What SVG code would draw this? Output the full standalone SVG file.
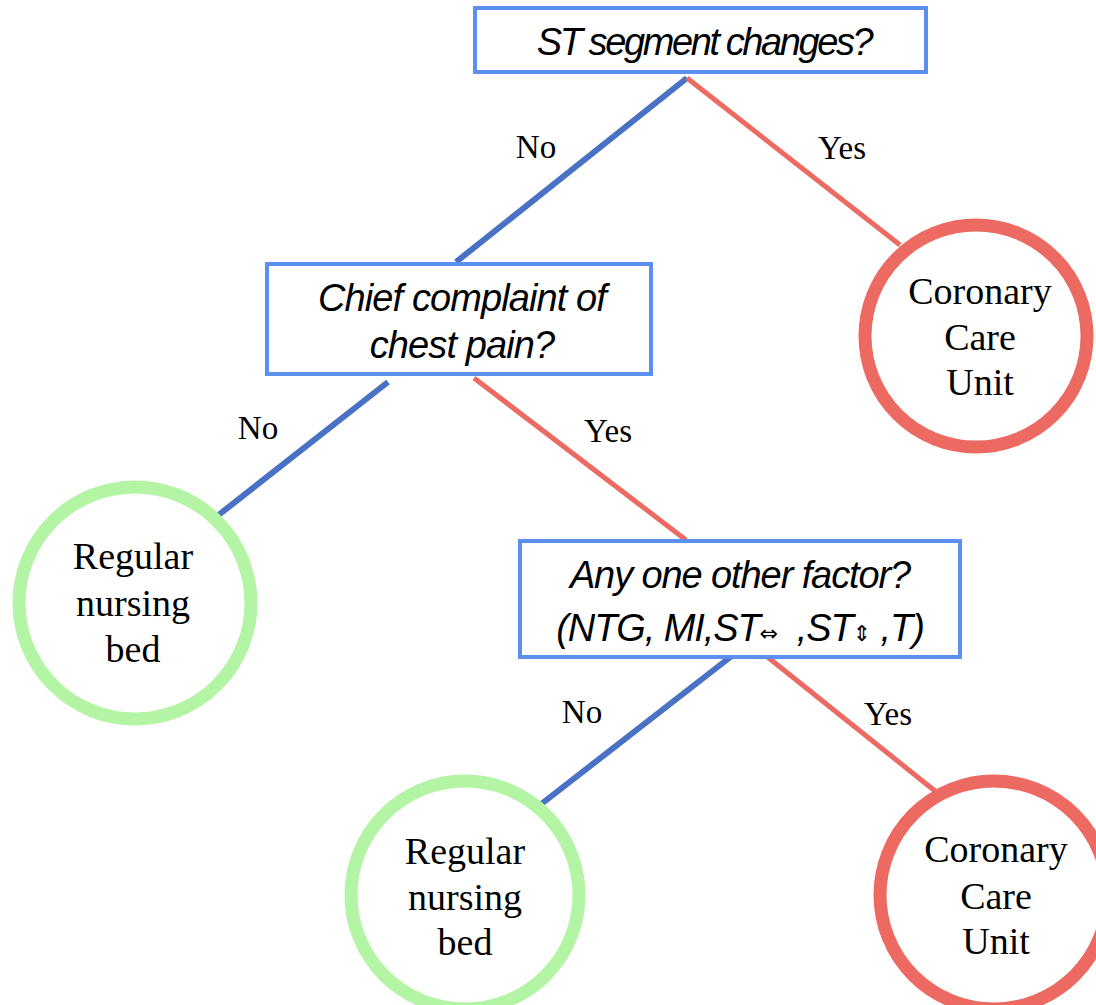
<svg xmlns="http://www.w3.org/2000/svg" width="1096" height="1005" viewBox="0 0 1096 1005">
  <style>
    .box { fill: #ffffff; stroke: #5b8ff0; stroke-width: 4; }
    .q { font-family: "Liberation Sans", Arial, sans-serif; font-style: italic; font-size: 38px; fill: #000; text-anchor: middle; }
    .sym { font-family: "DejaVu Sans", sans-serif; font-style: normal; font-size: 22px; letter-spacing: 0; }
    .lbl { font-family: "Liberation Serif", "Times New Roman", serif; font-size: 33px; fill: #000; text-anchor: middle; }
    .out { font-family: "Liberation Serif", "Times New Roman", serif; font-size: 38px; fill: #000; text-anchor: middle; }
    .no { stroke: #4a72c4; stroke-width: 6; }
    .yes { stroke: #ec6a62; stroke-width: 5; }
    .ccu { fill: #ffffff; stroke: #ec6a62; stroke-width: 13; }
    .rnb { fill: #ffffff; stroke: #b3f5a5; stroke-width: 13; }
  </style>

  <rect width="1096" height="1005" fill="#ffffff"/>

  <g id="connectors">
    <line class="no" x1="687" y1="78" x2="456" y2="262"/>
    <line class="yes" x1="687" y1="78" x2="900" y2="245"/>
    <line class="no" x1="388" y1="382" x2="216" y2="517"/>
    <line class="yes" x1="474" y1="378" x2="686" y2="540"/>
    <line class="no" x1="733" y1="655" x2="540" y2="805"/>
    <line class="yes" x1="765" y1="655" x2="940" y2="795"/>
    <text class="lbl" x="536" y="158">No</text>
    <text class="lbl" x="842" y="159">Yes</text>
    <text class="lbl" x="258" y="439">No</text>
    <text class="lbl" x="608" y="442">Yes</text>
    <text class="lbl" x="582" y="723">No</text>
    <text class="lbl" x="888" y="725">Yes</text>
  </g>

  <g id="q-st-segment">
    <rect class="box" x="475" y="8" width="451" height="64"/>
    <text class="q" x="704" y="55" letter-spacing="-2.4">ST segment changes?</text>
  </g>

  <g id="q-chest-pain">
    <rect class="box" x="267" y="264" width="384" height="110"/>
    <text class="q" x="462" y="311" letter-spacing="-0.9">Chief complaint of</text>
    <text class="q" x="462" y="358" letter-spacing="-0.9">chest pain?</text>
  </g>

  <g id="q-other-factor">
    <rect class="box" x="520" y="541" width="440" height="116"/>
    <text class="q" x="740" y="588" letter-spacing="-1.1">Any one other factor?</text>
    <text class="q" x="740" y="641" letter-spacing="-1.1">(NTG, MI,ST<tspan class="sym">⇔</tspan>&#160; ,ST<tspan class="sym">⇕</tspan> ,T)</text>
  </g>

  <g id="ccu-1">
    <circle class="ccu" cx="976" cy="336" r="111"/>
    <text class="out" x="980" y="304">Coronary</text>
    <text class="out" x="980" y="350">Care</text>
    <text class="out" x="980" y="395">Unit</text>
  </g>

  <g id="rnb-1">
    <circle class="rnb" cx="135" cy="603" r="116"/>
    <text class="out" x="133" y="569">Regular</text>
    <text class="out" x="133" y="616">nursing</text>
    <text class="out" x="133" y="662">bed</text>
  </g>

  <g id="rnb-2">
    <circle class="rnb" cx="465" cy="895" r="114"/>
    <text class="out" x="465" y="864">Regular</text>
    <text class="out" x="465" y="910">nursing</text>
    <text class="out" x="465" y="955">bed</text>
  </g>

  <g id="ccu-2">
    <circle class="ccu" cx="994" cy="895" r="114"/>
    <text class="out" x="996" y="862">Coronary</text>
    <text class="out" x="996" y="909">Care</text>
    <text class="out" x="996" y="954">Unit</text>
  </g>
</svg>
